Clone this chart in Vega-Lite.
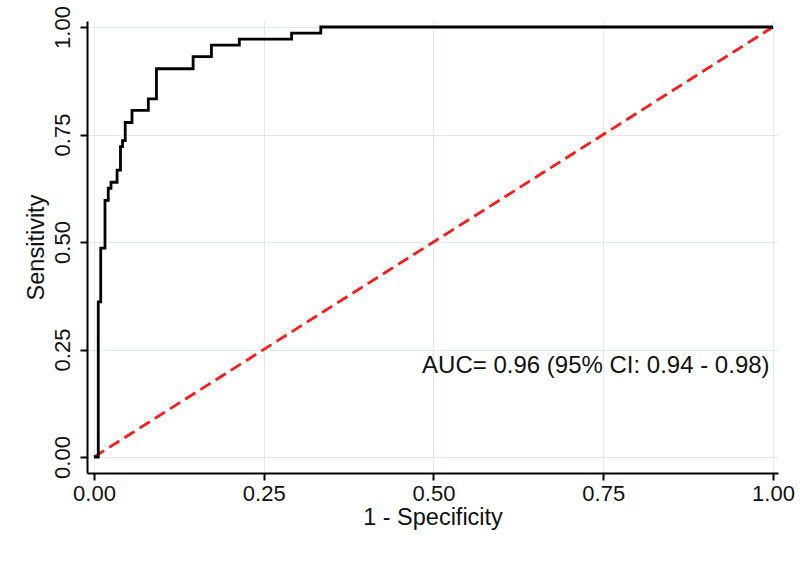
{
  "$schema": "https://vega.github.io/schema/vega-lite/v6.json",
  "width": 691,
  "height": 452,
  "autosize": {"type": "none"},
  "padding": {"left": 87, "top": 21, "right": 22, "bottom": 108},
  "background": "white",
  "config": {
    "view": {"stroke": null},
    "font": "Liberation Sans",
    "axis": {
      "domainColor": "black",
      "domainWidth": 2,
      "tickColor": "black",
      "tickWidth": 2,
      "tickSize": 7,
      "gridColor": "#dfeaee",
      "gridWidth": 1,
      "labelColor": "#111111",
      "titleColor": "#111111",
      "labelFont": "Liberation Sans",
      "titleFont": "Liberation Sans",
      "labelFontSize": 22,
      "titleFontSize": 23.5,
      "titleFontWeight": "normal",
      "labelOverlap": false,
      "labelFlush": false
    }
  },
  "datasets": {
    "roc": [
      {"fpr": 0.0, "sens": 0.0},
      {"fpr": 0.0063, "sens": 0.361},
      {"fpr": 0.0099, "sens": 0.486},
      {"fpr": 0.0162, "sens": 0.597},
      {"fpr": 0.021, "sens": 0.625},
      {"fpr": 0.025, "sens": 0.639},
      {"fpr": 0.034, "sens": 0.667},
      {"fpr": 0.039, "sens": 0.722},
      {"fpr": 0.042, "sens": 0.736},
      {"fpr": 0.046, "sens": 0.778},
      {"fpr": 0.056, "sens": 0.806},
      {"fpr": 0.080, "sens": 0.833},
      {"fpr": 0.092, "sens": 0.903},
      {"fpr": 0.146, "sens": 0.931},
      {"fpr": 0.173, "sens": 0.958},
      {"fpr": 0.214, "sens": 0.972},
      {"fpr": 0.291, "sens": 0.986},
      {"fpr": 0.334, "sens": 1.0},
      {"fpr": 1.0, "sens": 1.0}
    ],
    "ref": [
      {"fpr": 0, "sens": 0},
      {"fpr": 1, "sens": 1}
    ],
    "label": [
      {"fpr": 0.995, "sens": 0.212, "text": "AUC= 0.96 (95% CI: 0.94 - 0.98)"}
    ]
  },
  "encoding": {
    "x": {
      "field": "fpr",
      "type": "quantitative",
      "scale": {"domain": [-0.0103, 1.0074], "nice": false, "zero": false},
      "axis": {
        "values": [0, 0.25, 0.5, 0.75, 1],
        "format": ".2f",
        "title": "1 - Specificity",
        "labelPadding": 3,
        "titlePadding": 1
      }
    },
    "y": {
      "field": "sens",
      "type": "quantitative",
      "scale": {"domain": [-0.0372, 1.014], "nice": false, "zero": false},
      "axis": {
        "values": [0, 0.25, 0.5, 0.75, 1],
        "format": ".2f",
        "title": "Sensitivity",
        "labelAngle": -90,
        "labelAlign": "center",
        "labelBaseline": "bottom",
        "labelPadding": 6,
        "titlePadding": 3
      }
    }
  },
  "layer": [
    {
      "data": {"name": "ref"},
      "mark": {"type": "line", "color": "#ff1a1a", "strokeWidth": 2.8, "strokeDash": [12, 6]},
      "encoding": {}
    },
    {
      "data": {"name": "roc"},
      "mark": {"type": "line", "color": "black", "strokeWidth": 2.8, "interpolate": "step-after"},
      "encoding": {}
    },
    {
      "data": {"name": "label"},
      "mark": {"type": "text", "align": "right", "baseline": "middle", "fontSize": 24, "font": "Liberation Sans", "color": "#111111"},
      "encoding": {"text": {"field": "text"}}
    }
  ]
}
